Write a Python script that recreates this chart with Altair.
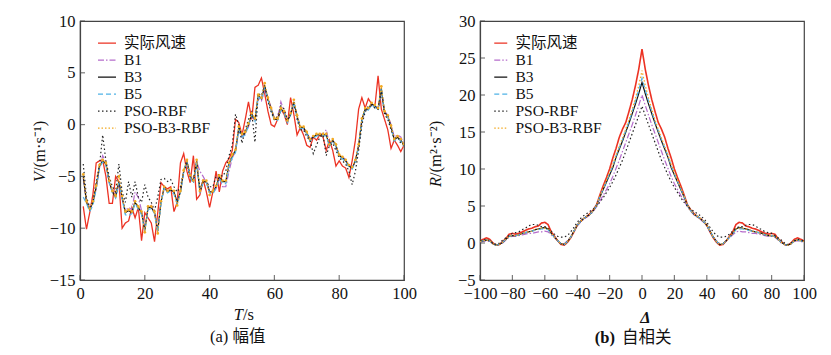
import altair as alt
import pandas as pd

# ---------------- data: (a) amplitude ----------------
T = list(range(1, 101))
series_names = ["实际风速", "B1", "B3", "B5", "PSO-RBF", "PSO-B3-RBF"]

v_actual = [-7.9, -10.1, -8.5, -6.7, -3.7, -3.5, -3.4, -5.0, -7.6, -7.6,
            -5.0, -5.5, -10.0, -9.5, -9.3, -8.0, -9.0, -8.0, -11.2, -8.5,
            -9.0, -9.5, -11.3, -8.5, -5.6, -6.0, -6.2, -6.0, -8.4, -7.5,
            -3.7, -2.8, -4.5, -5.6, -3.0, -7.2, -6.8, -5.3, -6.5, -8.0,
            -6.5, -4.5, -6.5, -4.5, -3.7, -3.3, -2.5, 0.5, 0.2, -1.0,
            0.5, 2.2, 0.5, 3.6, 3.8, 4.5, 3.0, 1.3, 0.0, -0.2,
            0.5, 1.5, 1.0, 0.0, 2.6, 1.0, -1.0, -0.3, -1.0, -2.0,
            -2.2, -1.2, -1.5, -1.0, -1.2, -2.5, -1.5, -2.5, -4.0, -3.5,
            -4.0, -4.2, -5.1, -3.5, -1.5, 1.5, 2.6, 1.6, 2.5, 2.0,
            1.7, 4.7, 1.5, 0.5, -0.5, -2.3, -1.5, -2.0, -2.6, -2.0]

v_b1 = [-5.2, -7.3, -8.0, -7.4, -6.2, -4.2, -3.0, -3.6, -5.6, -6.4,
        -6.8, -5.6, -7.2, -8.3, -8.0, -8.2, -6.5, -7.0, -8.3, -10.0,
        -8.2, -7.8, -8.4, -10.1, -7.4, -6.2, -6.4, -6.2, -6.6, -7.4,
        -6.4, -4.6, -3.6, -4.9, -5.4, -3.6, -4.5, -5.0, -5.6, -6.4,
        -6.6, -6.2, -5.2, -6.0, -6.0, -4.5, -3.2, -2.6, -0.5, -1.2,
        -0.9, -0.2, 0.8, 0.4, 2.6, 2.3, 3.3, 2.6, 1.6, 0.6,
        0.7, 2.2, 1.3, 0.4, 1.1, 2.1, 0.9, -0.2, -0.4, -0.9,
        -1.4, -1.1, -1.0, -0.9, -0.9, -0.5, -1.9, -1.6, -2.1, -3.0,
        -3.1, -3.4, -3.9, -4.1, -3.6, -2.1, 0.3, 1.4, 1.6, 1.9,
        1.8, 1.6, 3.2, 1.3, 0.9, 0.0, -1.2, -1.0, -1.2, -1.9]

v_b3 = [-5.0, -7.5, -8.2, -7.5, -6.0, -4.0, -3.5, -3.8, -5.5, -6.5,
        -7.0, -5.5, -7.0, -8.5, -8.3, -8.5, -7.5, -8.0, -8.5, -10.2,
        -8.0, -8.0, -8.5, -10.3, -7.5, -6.0, -6.5, -6.3, -6.5, -7.5,
        -6.5, -4.5, -3.5, -5.0, -5.5, -3.5, -6.5, -5.5, -5.5, -6.5,
        -6.5, -6.0, -5.0, -5.5, -5.5, -3.8, -3.0, -2.5, -0.3, -1.0,
        -0.8, 0.0, 1.0, 0.5, 2.8, 2.5, 3.7, 2.5, 1.5, 0.5,
        0.5, 1.5, 1.2, 0.3, 1.0, 2.2, 0.8, -0.3, -0.3, -0.8,
        -1.5, -1.2, -1.0, -1.0, -1.0, -1.0, -2.0, -1.5, -2.0, -3.0,
        -3.2, -3.5, -4.0, -4.2, -3.5, -2.0, 0.5, 1.5, 1.5, 2.0,
        1.8, 1.5, 3.5, 1.2, 0.8, -0.2, -1.5, -1.2, -1.5, -2.0]

v_b5 = [-7.0, -7.6, -8.4, -7.8, -6.2, -4.2, -3.6, -3.9, -5.6, -6.6,
        -7.1, -5.6, -7.2, -8.7, -8.8, -8.6, -7.6, -8.2, -8.7, -10.3,
        -8.2, -8.1, -8.6, -10.4, -7.6, -6.1, -6.6, -6.4, -6.7, -7.7,
        -6.6, -4.6, -3.6, -5.1, -5.7, -3.7, -6.6, -5.6, -5.6, -6.6,
        -6.7, -6.1, -5.2, -5.7, -5.7, -4.0, -3.2, -2.7, -0.5, -1.2,
        -1.0, -0.1, 0.9, 0.3, 2.7, 2.4, 3.6, 2.4, 1.4, 0.4,
        0.4, 1.4, 1.1, 0.2, 0.9, 2.1, 0.7, -0.4, -0.4, -0.9,
        -1.6, -1.3, -1.1, -1.1, -1.1, -1.1, -2.1, -1.6, -2.1, -3.1,
        -3.3, -3.6, -4.1, -4.3, -3.6, -2.2, 0.3, 1.4, 1.4, 1.9,
        1.7, 1.4, 3.4, 1.1, 0.7, -0.3, -1.6, -1.3, -1.6, -2.1]

v_pso = [-3.8, -7.0, -8.0, -7.5, -5.5, -4.0, -1.0, -3.5, -5.0, -6.0,
         -6.5, -3.8, -6.5, -7.5, -5.5, -7.0, -5.5, -7.0, -7.5, -5.8,
         -7.0, -7.5, -8.3, -7.0, -5.3, -5.2, -5.5, -5.3, -6.0, -6.5,
         -6.0, -4.5, -3.8, -5.0, -5.0, -4.0, -6.0, -5.5, -5.5, -6.0,
         -6.0, -5.0, -4.8, -5.0, -4.5, -3.0, -2.0, 1.0, 0.0, -1.8,
         -0.5, 0.5, 1.2, -1.7, 3.0, 2.8, 3.8, 2.3, 1.2, 0.5,
         0.8, 1.8, 1.5, 0.5, 1.0, 2.0, 0.5, -0.5, -0.5, -1.2,
         -1.5, -2.8, -2.0, -1.2, -1.0, -3.0, -2.0, -1.8, -2.5, -3.2,
         -3.5, -3.8, -4.5, -5.8, -4.5, -2.5, 0.0, 1.2, 1.8, 1.8,
         1.6, 1.5, 3.2, 1.0, 0.5, -0.5, -1.3, -1.2, -1.8, -2.0]

v_psob3 = [-4.8, -7.4, -8.1, -7.4, -5.9, -3.9, -3.4, -3.7, -5.4, -6.4,
           -6.9, -5.0, -6.9, -8.4, -8.2, -8.4, -7.4, -7.9, -8.4, -10.4,
           -7.9, -7.9, -8.4, -10.5, -7.4, -6.0, -6.4, -6.2, -6.4, -7.8,
           -6.4, -4.4, -3.4, -4.9, -5.4, -3.4, -6.4, -5.4, -5.4, -6.8,
           -6.4, -5.9, -4.9, -5.4, -5.4, -3.7, -2.9, -2.4, -0.2, -0.9,
           -0.7, 0.1, 1.1, 0.6, 2.9, 2.6, 4.0, 2.6, 1.6, 0.6,
           0.6, 1.6, 1.3, 0.4, 1.1, 2.4, 0.9, -0.2, -0.2, -0.7,
           -1.4, -1.1, -0.9, -0.9, -0.9, -0.9, -1.9, -1.4, -1.9, -2.9,
           -3.1, -3.4, -3.9, -4.1, -3.4, -1.9, 0.6, 1.6, 1.6, 2.1,
           1.9, 1.6, 3.7, 1.3, 0.9, -0.1, -1.4, -1.1, -1.4, -1.9]

# ---------------- data: (b) autocorrelation (lags 0..100, symmetric) ----------------
lags = list(range(0, 101, 2))
r_actual = [26.2, 23.5, 21.3, 19.4, 17.8, 16.3, 15.4, 14.3, 12.8, 11.5,
            10.0, 8.8, 7.7, 6.5, 5.2, 4.5, 4.0, 3.6, 3.3, 2.9,
            2.4, 1.5, 0.7, 0.1, -0.3, -0.2, 0.3, 0.9, 1.5, 2.5,
            2.8, 2.7, 2.3, 2.2, 2.0, 1.9, 1.7, 1.5, 1.3, 1.2,
            1.3, 1.2, 0.6, 0.2, -0.2, -0.3, 0.0, 0.5, 0.7, 0.5, 0.3]
r_b1 = [20.0, 18.6, 17.3, 16.0, 14.8, 13.6, 12.4, 11.2, 10.1, 9.0,
        8.0, 7.2, 6.4, 5.7, 4.9, 4.3, 3.8, 3.5, 3.2, 2.8,
        2.3, 1.6, 0.8, 0.3, -0.1, -0.1, 0.3, 0.7, 1.1, 1.5,
        1.6, 1.5, 1.5, 1.4, 1.3, 1.3, 1.2, 1.1, 1.0, 0.9,
        0.9, 0.8, 0.4, 0.0, -0.2, -0.3, -0.1, 0.2, 0.3, 0.2, 0.1]
r_b3 = [21.7, 20.2, 18.8, 17.5, 16.2, 15.0, 13.8, 12.7, 11.6, 10.2,
        9.2, 8.2, 7.2, 6.2, 5.1, 4.4, 3.9, 3.6, 3.3, 2.9,
        2.4, 1.6, 0.8, 0.2, -0.2, -0.1, 0.3, 0.8, 1.3, 1.9,
        2.1, 2.0, 1.9, 1.8, 1.6, 1.5, 1.4, 1.3, 1.1, 1.0,
        1.0, 0.9, 0.5, 0.1, -0.2, -0.3, -0.1, 0.3, 0.4, 0.3, 0.2]
r_b5 = [22.3, 20.7, 19.2, 17.8, 16.4, 15.2, 14.0, 12.9, 11.8, 10.4,
        9.4, 8.3, 7.3, 6.3, 5.1, 4.4, 3.9, 3.6, 3.3, 2.9,
        2.4, 1.6, 0.8, 0.2, -0.2, -0.1, 0.3, 0.8, 1.2, 1.8,
        1.9, 1.9, 1.8, 1.7, 1.6, 1.5, 1.4, 1.3, 1.1, 1.0,
        1.0, 0.9, 0.5, 0.1, -0.2, -0.3, -0.1, 0.3, 0.4, 0.3, 0.2]
r_pso = [18.5, 17.2, 16.0, 14.8, 13.6, 12.4, 11.2, 10.2, 9.2, 8.3,
         7.5, 6.8, 6.1, 5.5, 5.0, 4.6, 4.3, 4.0, 3.7, 3.3,
         2.8, 2.1, 1.5, 1.0, 0.8, 0.8, 0.9, 1.2, 1.6, 2.0,
         2.2, 2.2, 2.4, 2.5, 2.5, 2.3, 2.0, 1.8, 1.5, 1.4,
         1.3, 1.0, 0.7, 0.4, 0.0, -0.2, 0.0, 0.3, 0.5, 0.4, 0.3]
r_psob3 = [23.3, 21.3, 19.6, 18.1, 16.7, 15.4, 14.2, 13.1, 11.9, 10.6,
           9.5, 8.4, 7.4, 6.3, 5.1, 4.4, 3.9, 3.6, 3.3, 2.9,
           2.4, 1.6, 0.8, 0.2, -0.2, -0.1, 0.3, 0.8, 1.3, 1.9,
           2.0, 2.0, 1.9, 1.8, 1.6, 1.5, 1.4, 1.3, 1.1, 1.0,
           1.0, 0.9, 0.5, 0.1, -0.2, -0.3, -0.1, 0.3, 0.4, 0.3, 0.2]

# ---------------- styling ----------------
colors = ["#ec3223", "#b56ccb", "#111111", "#4fb2e6", "#222222", "#f2a922"]
dashes = [[1, 0], [6, 2, 1.5, 2], [1, 0], [5, 3], [1.5, 2.5], [1.5, 2]]
FONT = "'Liberation Serif', 'Noto Sans CJK SC', serif"
W, H = 324, 259
AX = "#444444"


def long_df(xs, cols):
    rows = []
    for name, vals in zip(series_names, cols):
        for x, v in zip(xs, vals):
            rows.append({"x": x, "y": v, "s": name})
    return pd.DataFrame(rows)


def mirror(vals):
    return list(reversed(vals[1:])) + list(vals)


lag_full = [-l for l in reversed(lags[1:])] + lags
df_a = long_df(T, [v_actual, v_b1, v_b3, v_b5, v_pso, v_psob3])
df_b = long_df(lag_full, [mirror(v) for v in [r_actual, r_b1, r_b3, r_b5, r_pso, r_psob3]])


def txt(s, x, y, size=16.5, style="normal", weight="normal", align="center",
        angle=0, baseline="alphabetic"):
    return alt.Chart(pd.DataFrame({"t": [s]})).mark_text(
        font=FONT, fontSize=size, fontStyle=style, fontWeight=weight,
        align=align, angle=angle, baseline=baseline, color="#111111"
    ).encode(text="t:N", x=alt.value(x), y=alt.value(y))


def panel(df, xdom, xticks, ydom, yticks, sym_w, leg_x, leg_y, red_w, texts, points=False):
    xs = alt.Scale(domain=xdom, nice=False, zero=False)
    ys = alt.Scale(domain=ydom, nice=False, zero=False)
    xax = alt.Axis(values=xticks, tickSize=0, labelPadding=5, title=None,
                   labelFlush=False, labelOverlap=False, grid=False)
    yax = alt.Axis(values=yticks, tickSize=0, labelPadding=5, title=None,
                   labelFlush=False, labelOverlap=False, grid=False)
    leg = alt.Legend(
        title=None, orient="none", legendX=leg_x, legendY=leg_y,
        symbolType="stroke", symbolSize=sym_w * sym_w, symbolStrokeWidth=1.3,
        labelFont=FONT, labelFontSize=15.5, labelColor="#111111",
        labelOffset=7, rowPadding=0, clipHeight=16.3, padding=0, labelLimit=0,
    )
    lines = alt.Chart(df).mark_line(clip=True).encode(
        x=alt.X("x:Q", scale=xs, axis=xax),
        y=alt.Y("y:Q", scale=ys, axis=yax),
        color=alt.Color("s:N", scale=alt.Scale(domain=series_names, range=colors), legend=leg),
        strokeDash=alt.StrokeDash("s:N", scale=alt.Scale(domain=series_names, range=dashes), legend=leg),
        strokeWidth=alt.condition("datum.s == '实际风速'", alt.value(red_w), alt.value(1.2)),
    )
    layers = [lines]
    if points:
        pts = alt.Chart(df).transform_filter("datum.s == 'PSO-B3-RBF'").mark_point(
            filled=True, size=7, color=colors[5], opacity=1, clip=True
        ).encode(x=alt.X("x:Q", scale=xs, axis=xax), y=alt.Y("y:Q", scale=ys, axis=yax))
        layers.append(pts)
    xt = alt.Chart(pd.DataFrame({"x": xticks})).mark_tick(
        orient="vertical", size=5, thickness=1.2, color=AX
    ).encode(x=alt.X("x:Q", scale=xs, axis=xax), y=alt.value(H - 2.5))
    yt = alt.Chart(pd.DataFrame({"y": yticks})).mark_tick(
        orient="horizontal", size=5, thickness=1.2, color=AX
    ).encode(y=alt.Y("y:Q", scale=ys, axis=yax), x=alt.value(2.5))
    layers += [xt, yt] + texts
    return alt.layer(*layers).properties(width=W, height=H)


texts_a = [
    txt("V", -40, 151, style="italic", align="right", angle=270, baseline="middle"),
    txt("/(m·s⁻¹)", -40, 151, align="left", angle=270, baseline="middle"),
    txt("T", 163, 298.5, style="italic", align="right"),
    txt("/s", 163, 298.5, align="left"),
    txt("(a) 幅值", 130, 321, align="left"),
]
texts_b = [
    txt("R", -44, 156, style="italic", align="right", angle=270, baseline="middle"),
    txt("/(m²·s⁻²)", -44, 156, align="left", angle=270, baseline="middle"),
    txt("Δ", 165.5, 302, style="italic", weight="bold"),
    txt("(b)", 135, 322, weight="bold", align="right"),
    txt("自相关", 142, 322, align="left"),
]

left = panel(df_a, [0, 100], [0, 20, 40, 60, 80, 100], [-15, 10], [-15, -10, -5, 0, 5, 10],
             18, 17, 14, 1.3, texts_a, points=True)
right = panel(df_b, [-100, 100], list(range(-100, 101, 20)), [-5, 30], list(range(-5, 31, 5)),
              13, 13, 14, 1.6, texts_b)

chart = alt.hconcat(left, right, spacing=10).resolve_scale(
    color="independent", strokeDash="independent"
).resolve_legend(color="independent", strokeDash="independent").properties(
    padding={"left": 31, "top": 12, "right": 5, "bottom": 5},
    background="white",
).configure_view(stroke=AX, strokeWidth=1.2).configure_axis(
    labelFont=FONT, labelFontSize=16.5, labelColor="#111111",
    domainColor=AX, domainWidth=1.2,
)

chart.save("out.html", embed_options={"renderer": "svg", "actions": False})
